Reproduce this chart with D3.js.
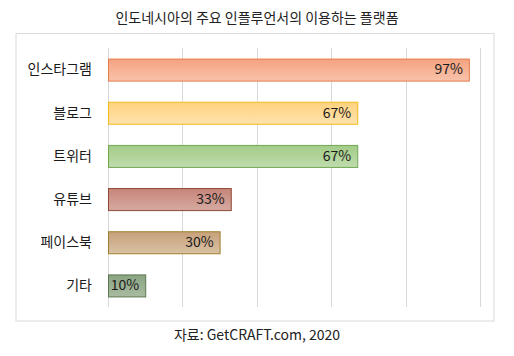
<!DOCTYPE html>
<html><head><meta charset="utf-8">
<script src="https://cdn.jsdelivr.net/npm/d3@7"></script>
<style>body{margin:0;background:#fff}svg{display:block}</style>
</head><body>
<svg id="c" width="514" height="356"></svg>
<script>
const categories = ["인스타그램","블로그","트위터","유튜브","페이스북","기타"];
const values = [97,67,67,33,30,10];
const tickValues = [0,20,40,60,80,100];
const fillsTop = ["#f5a27f","#ffd27f","#a3cc87","#c7857a","#c6a07a","#8aa482"];
const fillsBot = ["#f8c3aa","#ffe3ad","#bfdcad","#d5aaa1","#d9c2a4","#a9bba1"];
const strokes = ["#e47d4c","#f2bb1a","#72a852","#8e4a34","#a0802e","#5d7753"];

const svg = d3.select("#c");
const font = "'Noto Sans CJK KR','Noto Sans',sans-serif";

const defs = svg.append("defs");
categories.forEach((c,i)=>{
  const g = defs.append("linearGradient").attr("id","g"+i).attr("x1",0).attr("y1",0).attr("x2",0).attr("y2",1);
  g.append("stop").attr("offset","0%").attr("stop-color",fillsTop[i]);
  g.append("stop").attr("offset","100%").attr("stop-color",fillsBot[i]);
});

svg.append("text").attr("x",257).attr("y",23).attr("text-anchor","middle")
  .attr("font-family",font).attr("font-size",14).attr("fill","#222").text("인도네시아의 주요 인플루언서의 이용하는 플랫폼");

svg.append("rect").attr("x",16).attr("y",33.5).attr("width",478).attr("height",287.5)
  .attr("fill","#fff").attr("stroke","#d9d9d9");

const x = d3.scaleLinear().domain([0,100]).range([108,480]);
const y = d3.scaleBand().domain(categories).range([48,307]).paddingInner(0.49).paddingOuter(0.245);

svg.append("g").selectAll("line").data(tickValues).join("line")
  .attr("x1",d=>Math.round(x(d))+0.5).attr("x2",d=>Math.round(x(d))+0.5)
  .attr("y1",48).attr("y2",307).attr("stroke","#d9d9d9").attr("stroke-width",1);

svg.append("g").selectAll("rect").data(values).join("rect")
  .attr("x",x(0)+0.5).attr("y",(d,i)=>y(categories[i])+0.5)
  .attr("width",d=>x(d)-x(0)).attr("height",y.bandwidth())
  .attr("fill",(d,i)=>`url(#g${i})`).attr("stroke",(d,i)=>strokes[i]).attr("stroke-width",1);

svg.append("g").selectAll("text").data(values).join("text")
  .attr("x",d=>x(d)-6).attr("y",(d,i)=>y(categories[i])+y.bandwidth()/2+1)
  .attr("dominant-baseline","middle").attr("text-anchor","end")
  .attr("font-family",font).attr("font-size",14).attr("fill","#1a1a1a").text(d=>d+"%");

svg.append("g").selectAll("text").data(categories).join("text")
  .attr("x",92).attr("y",c=>y(c)+y.bandwidth()/2+1)
  .attr("dominant-baseline","middle").attr("text-anchor","end")
  .attr("font-family",font).attr("font-size",14).attr("fill","#1a1a1a").text(c=>c);

svg.append("text").attr("x",257).attr("y",340).attr("text-anchor","middle")
  .attr("font-family",font).attr("font-size",14).attr("fill","#222").text("자료: GetCRAFT.com, 2020");
</script>
</body></html>
